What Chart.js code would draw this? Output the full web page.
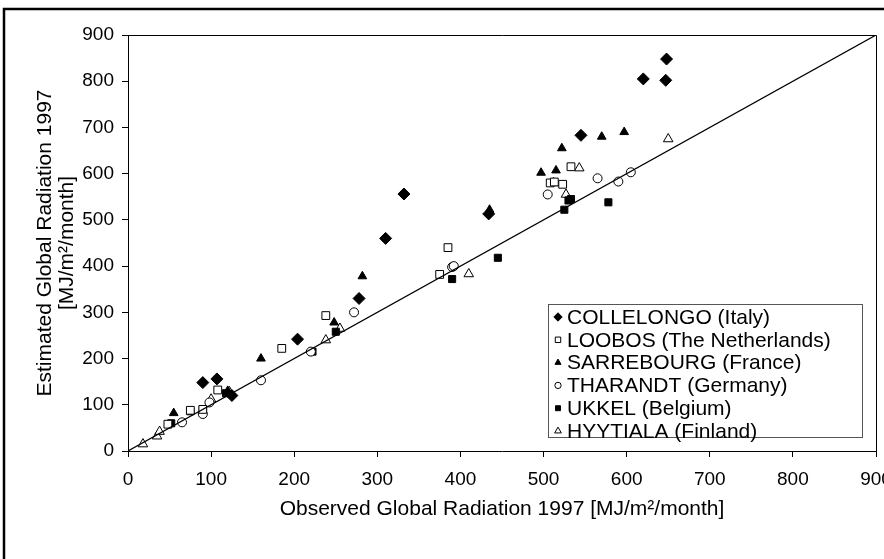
<!DOCTYPE html>
<html lang="en">
<head>
  <meta charset="UTF-8">
  <title>Estimated vs observed global radiation 1997</title>
  <!-- Link chart.js. -->
  <script src="https://cdn.jsdelivr.net/npm/chart.js"></script>
  <style>
    html, body { margin: 0; padding: 0; background: #fff; }
  </style>
</head>
<body>

  <canvas id="chart0" width="884" height="559"></canvas>

  <script>

    /* Data: [observed, estimated], MJ/m2/month. */
    const collelongo = [[90, 148], [107, 156], [125, 120], [204, 242], [278, 330], [310, 460],
                        [332, 556], [434, 513], [545, 683], [620, 805], [647, 802], [648, 848]]
    const loobos = [[48, 58], [75, 88], [90, 90], [108, 132], [185, 222], [238, 293],
                    [375, 382], [385, 440], [508, 580], [513, 582], [523, 577], [533, 615]]
    const sarrebourg = [[55, 82], [120, 130], [160, 200], [248, 278], [282, 378], [435, 522],
                        [497, 602], [515, 607], [522, 655], [570, 680], [597, 690]]
    const tharandt = [[65, 62], [90, 80], [98, 105], [160, 153], [220, 215], [272, 300],
                      [390, 398], [392, 400], [505, 555], [565, 590], [590, 583], [605, 603]]
    const ukkel = [[52, 60], [75, 86], [90, 90], [118, 125], [222, 215], [250, 258],
                   [390, 372], [445, 418], [525, 522], [530, 542], [533, 545], [578, 538]]
    const hyytiala = [[18, 15], [35, 32], [38, 42], [100, 112], [122, 128], [238, 240],
                      [255, 265], [410, 383], [512, 580], [527, 555], [543, 612], [650, 675]]
    const oneToOne = [[0, 0], [900, 900]]

    const siteNames = ["COLLELONGO (Italy)", "LOOBOS (The Netherlands)", "SARREBOURG (France)",
                       "THARANDT (Germany)", "UKKEL (Belgium)", "HYYTIALA (Finland)"]
    const axisTicks = [0, 100, 200, 300, 400, 500, 600, 700, 800, 900]

    const toPoints = rows => rows.map(r => ({ x: r[0], y: r[1] }))
    const family = "'Liberation Sans', Arial, sans-serif"
    const tickFont = { family: family, size: 19 }
    const titleFont = { family: family, size: 21 }

    /* Marker styles per site. */
    const markers = [
      { pointStyle: "rectRot", radius: 6, fill: "#000" },
      { pointStyle: "rect", radius: 5.5, fill: "#fff" },
      { pointStyle: "triangle", radius: 5, fill: "#000" },
      { pointStyle: "circle", radius: 4.5, fill: "#fff" },
      { pointStyle: "rect", radius: 5, fill: "#000" },
      { pointStyle: "triangle", radius: 5.5, fill: "#fff" },
    ]
    const series = [collelongo, loobos, sarrebourg, tharandt, ukkel, hyytiala]

    const datasets = series.map((s, i) => ({
      type: "scatter",
      label: siteNames[i],
      data: toPoints(s),
      pointStyle: markers[i].pointStyle,
      pointRadius: markers[i].radius,
      pointHoverRadius: markers[i].radius,
      pointBackgroundColor: markers[i].fill,
      pointBorderColor: "#000",
      pointBorderWidth: 1,
    }))

    datasets.unshift({
      type: "line",
      label: "1:1",
      data: toPoints(oneToOne),
      borderColor: "#000",
      borderWidth: 1.2,
      pointRadius: 0,
      fill: false,
    })

    /* Frame round the picture, plot-area box and legend. */
    const decor = {
      id: "decor",
      afterDraw(chart) {
        const ctx = chart.ctx
        const area = chart.chartArea
        ctx.save()
        ctx.strokeStyle = "#000"
        ctx.lineWidth = 1
        ctx.beginPath()
        ctx.moveTo(area.left, area.top + 0.5)
        ctx.lineTo(area.right + 0.5, area.top + 0.5)
        ctx.lineTo(area.right + 0.5, area.bottom)
        ctx.stroke()

        ctx.lineWidth = 2.5
        ctx.beginPath()
        ctx.moveTo(4, 559)
        ctx.lineTo(4, 9)
        ctx.lineTo(884, 9)
        ctx.stroke()

        /* Legend box. */
        const lx = 548, ly = 304, lw = 314, lh = 133
        ctx.fillStyle = "#fff"
        ctx.fillRect(lx, ly, lw, lh)
        ctx.strokeStyle = "#555"
        ctx.lineWidth = 1
        ctx.strokeRect(lx + 0.5, ly + 0.5, lw, lh)

        ctx.font = "21px " + family
        ctx.textBaseline = "middle"
        ctx.textAlign = "left"
        const rowH = 22.8
        const first = ly + 13
        siteNames.forEach((name, i) => {
          const y = first + i * rowH
          ctx.fillStyle = markers[i].fill
          ctx.strokeStyle = "#000"
          ctx.lineWidth = 1
          Chart.helpers.drawPoint(ctx, {
            pointStyle: markers[i].pointStyle,
            radius: markers[i].radius * 0.7,
            rotation: 0,
            borderWidth: 1,
          }, 558, y)
          ctx.fillStyle = "#000"
          ctx.fillText(name, 567, y + 1)
        })
        ctx.restore()
      }
    }

    const ctx0 = document.getElementById("chart0").getContext("2d")
    const myChart0 = new Chart(ctx0, {
      data: { datasets: datasets },
      options: {
        responsive: false,
        animation: false,
        layout: { padding: { top: 35, right: 8, left: 0, bottom: 0 } },
        scales: {
          x: {
            type: "linear",
            min: 0,
            max: 900,
            afterBuildTicks: scale => { scale.ticks = axisTicks.map(v => ({ value: v })) },
            afterFit: scale => { scale.height = 108; scale.paddingRight = 0; scale.paddingLeft = 0 },
            ticks: { color: "#000", font: tickFont, padding: 11, maxRotation: 0, autoSkip: false },
            grid: { display: true, drawOnChartArea: false, drawTicks: true, tickLength: 6, color: "#000" },
            border: { display: true, color: "#000", width: 1 },
            title: {
              display: true,
              text: "Observed Global Radiation 1997 [MJ/m²/month]",
              color: "#000",
              font: titleFont,
              padding: { top: 0, bottom: 37 },
            },
          },
          y: {
            type: "linear",
            min: 0,
            max: 900,
            afterBuildTicks: scale => { scale.ticks = axisTicks.map(v => ({ value: v })) },
            afterFit: scale => { scale.width = 128 },
            ticks: { color: "#000", font: tickFont, padding: 8, autoSkip: false },
            grid: { display: true, drawOnChartArea: false, drawTicks: true, tickLength: 6, color: "#000" },
            border: { display: true, color: "#000", width: 1 },
            title: {
              display: true,
              text: ["Estimated Global Radiation 1997", "[MJ/m²/month]"],
              color: "#000",
              font: { family: family, size: 21, lineHeight: 1.05 },
              padding: { top: 34, bottom: 0 },
            },
          },
        },
        plugins: {
          legend: { display: false },
          tooltip: { enabled: false },
        },
      },
      plugins: [decor],
    })

  </script>

</body>
</html>
